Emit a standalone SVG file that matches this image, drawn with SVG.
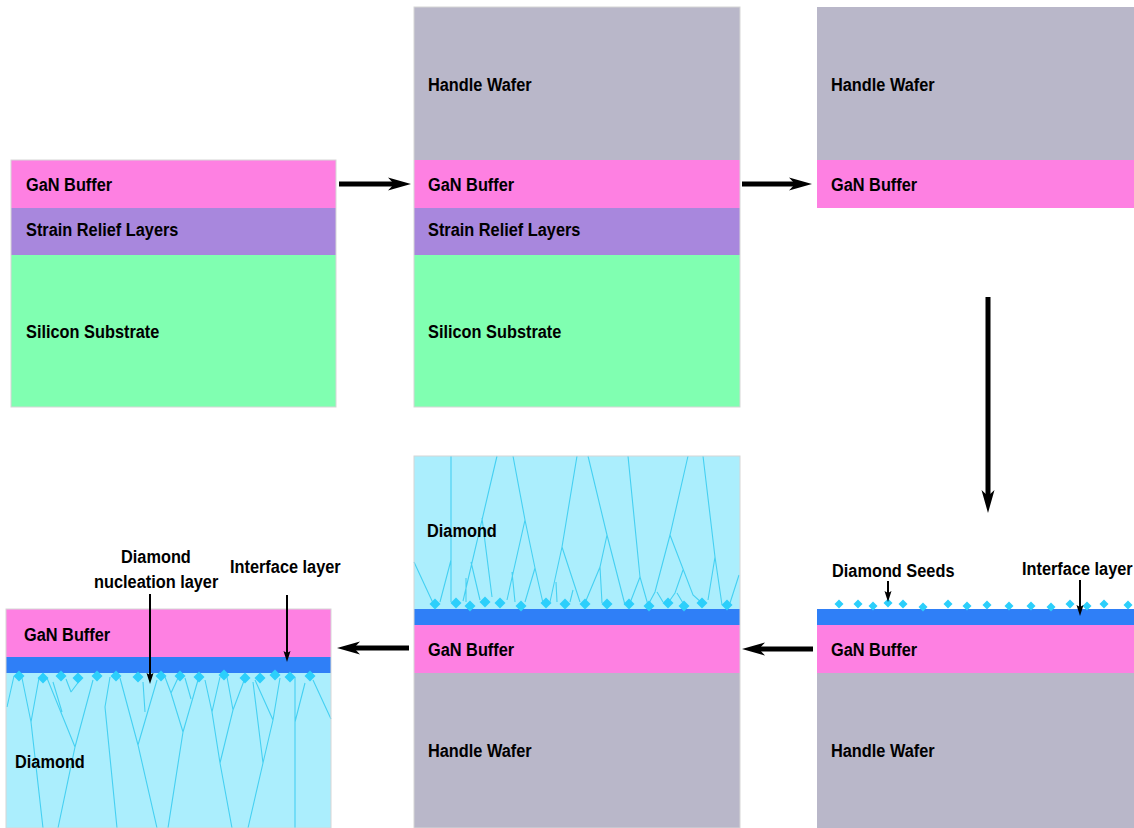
<svg xmlns="http://www.w3.org/2000/svg" width="1134" height="828" viewBox="0 0 1134 828">
  <style>
    .t { font-family: "Liberation Sans", Arial, sans-serif; font-weight: bold; font-size: 19px; fill: #000; }
    .gan { fill: #fe80e2; }
    .srl { fill: #a887dd; }
    .si { fill: #80ffb1; }
    .hw { fill: #b9b7c9; }
    .dia { fill: #abeefd; }
    .ifl { fill: #2f7ff7; }
    .frame { fill: none; stroke: #d6d6d6; stroke-width: 1; }
    .grain { fill: none; stroke: #45d0f2; stroke-width: 1.1; }
    .seed { fill: #2ccffb; }
    .arrow { stroke: #000; stroke-width: 5; fill: none; marker-end: url(#head); }
    .ptr { stroke: #000; stroke-width: 2; fill: none; marker-end: url(#headS); }
  </style>
  <defs>
    <marker id="head" markerUnits="userSpaceOnUse" markerWidth="24" markerHeight="14" refX="6" refY="7" orient="auto">
      <path d="M0,0.5 L23,7 L0,13.5 L6,7 Z" fill="#000"/>
    </marker>
    <marker id="headS" markerUnits="userSpaceOnUse" markerWidth="11" markerHeight="8" refX="2" refY="4" orient="auto">
      <path d="M0,0.5 L11,4 L0,7.5 L2,4 Z" fill="#000"/>
    </marker>
    <path id="seed" class="seed" d="M0,-5.5 L5.5,0 L0,5.5 L-5.5,0 Z"/>
    <path id="seedS" class="seed" d="M0,-4.5 L4.5,0 L0,4.5 L-4.5,0 Z"/>
  </defs>

  <rect width="1134" height="828" fill="#fff"/>

  <!-- Step 1: GaN-on-Si starting wafer -->
  <g id="step1">
    <rect class="gan" x="11" y="160" width="325" height="48"/>
    <rect class="srl" x="11" y="208" width="325" height="47"/>
    <rect class="si" x="11" y="255" width="325" height="152"/>
    <rect class="frame" x="11" y="160" width="325" height="247"/>
    <text class="t" transform="translate(26,191) scale(0.86,1)">GaN Buffer</text>
    <text class="t" transform="translate(26,236) scale(0.86,1)">Strain Relief Layers</text>
    <text class="t" transform="translate(26,338) scale(0.86,1)">Silicon Substrate</text>
  </g>

  <!-- Step 2: bonded to handle wafer -->
  <g id="step2">
    <rect class="hw" x="414" y="7" width="326" height="153"/>
    <rect class="gan" x="414" y="160" width="326" height="48"/>
    <rect class="srl" x="414" y="208" width="326" height="47"/>
    <rect class="si" x="414" y="255" width="326" height="152"/>
    <rect class="frame" x="414" y="7" width="326" height="400"/>
    <text class="t" transform="translate(428,91) scale(0.86,1)">Handle Wafer</text>
    <text class="t" transform="translate(428,191) scale(0.86,1)">GaN Buffer</text>
    <text class="t" transform="translate(428,236) scale(0.86,1)">Strain Relief Layers</text>
    <text class="t" transform="translate(428,338) scale(0.86,1)">Silicon Substrate</text>
  </g>

  <!-- Step 3: substrate and strain relief layers removed -->
  <g id="step3">
    <rect class="hw" x="817" y="7" width="317" height="153"/>
    <rect class="gan" x="817" y="160" width="317" height="48"/>
    <text class="t" transform="translate(831,91) scale(0.86,1)">Handle Wafer</text>
    <text class="t" transform="translate(831,191) scale(0.86,1)">GaN Buffer</text>
  </g>

  <!-- Step 4: interface layer and diamond seeding -->
  <g id="step4">
    <rect class="ifl" x="817" y="609" width="317" height="16"/>
    <rect class="gan" x="817" y="625" width="317" height="48"/>
    <rect class="hw" x="817" y="673" width="317" height="155"/>
    <use href="#seedS" x="839" y="604"/>
    <use href="#seedS" x="858" y="604"/>
    <use href="#seedS" x="873" y="606"/>
    <use href="#seedS" x="888" y="603"/>
    <use href="#seedS" x="903" y="604"/>
    <use href="#seedS" x="923" y="607"/>
    <use href="#seedS" x="948" y="604"/>
    <use href="#seedS" x="967" y="606"/>
    <use href="#seedS" x="987" y="605"/>
    <use href="#seedS" x="1009" y="606"/>
    <use href="#seedS" x="1031" y="606"/>
    <use href="#seedS" x="1051" y="607"/>
    <use href="#seedS" x="1070" y="604"/>
    <use href="#seedS" x="1087" y="606"/>
    <use href="#seedS" x="1104" y="604"/>
    <use href="#seedS" x="1128" y="605"/>
    <text class="t" transform="translate(831,656) scale(0.86,1)">GaN Buffer</text>
    <text class="t" transform="translate(831,757) scale(0.86,1)">Handle Wafer</text>
    <text class="t" transform="translate(832,577) scale(0.86,1)">Diamond Seeds</text>
    <text class="t" transform="translate(1022,575) scale(0.86,1)">Interface layer</text>
  </g>

  <!-- Step 5: diamond growth -->
  <g id="step5">
    <rect class="dia" x="414" y="456" width="326" height="153"/>
    <path class="grain" d="M414,562 L433,603 M440,602 L451,560 M451,456 L451,602
      M497,456 L463,601 M471,562 L480,600 M482,518 L492,597 M466,578 L466,602
      M513,456 L525,520 L535,568 L543,603 M525,520 L507,600 M512,572 L515,602 M535,568 L525,602
      M577,456 L562,547 L550,602 M562,547 L580,602 M556,582 L557,602 M573,590 L570,602
      M588,456 L607,535 L625,605 M607,535 L600,567 L585,603 M600,567 L602,603
      M628,456 L640,577 L648,605 M640,577 L630,603
      M688,456 L670,535 L655,592 L648,605 M670,535 L693,595 L702,603 M683,570 L675,593 L668,603
      M657,592 L663,602 M677,593 L683,603
      M703,456 L715,557 L722,605 M715,557 L708,600 M739,575 L730,603"/>
    <rect class="ifl" x="414" y="609" width="326" height="16"/>
    <use href="#seed" x="435" y="604"/>
    <use href="#seed" x="456" y="603"/>
    <use href="#seed" x="470" y="606"/>
    <use href="#seed" x="485" y="602"/>
    <use href="#seed" x="500" y="603"/>
    <use href="#seed" x="521" y="606"/>
    <use href="#seed" x="546" y="603"/>
    <use href="#seed" x="565" y="604"/>
    <use href="#seed" x="585" y="604"/>
    <use href="#seed" x="607" y="604"/>
    <use href="#seed" x="629" y="604"/>
    <use href="#seed" x="649" y="606"/>
    <use href="#seed" x="668" y="603"/>
    <use href="#seed" x="684" y="606"/>
    <use href="#seed" x="702" y="603"/>
    <use href="#seed" x="727" y="605"/>
    <rect class="gan" x="414" y="625" width="326" height="48"/>
    <rect class="hw" x="414" y="673" width="326" height="155"/>
    <rect class="frame" x="414" y="456" width="326" height="372"/>
    <text class="t" transform="translate(427,537) scale(0.86,1)">Diamond</text>
    <text class="t" transform="translate(428,656) scale(0.86,1)">GaN Buffer</text>
    <text class="t" transform="translate(428,757) scale(0.86,1)">Handle Wafer</text>
  </g>

  <!-- Step 6: handle wafer removed, GaN-on-diamond -->
  <g id="step6">
    <rect class="gan" x="6" y="609" width="325" height="48"/>
    <rect class="dia" x="6" y="673" width="325" height="155"/>
    <path class="grain" d="M7,707 L14,676
      M22,678 L31,722 M39,678 L31,722 M31,722 L43,828
      M47,678 L75,747 M93,680 L75,747 M75,747 L58,828
      M53,682 L62,712 M66,679 L71,692 M80,680 L71,692
      M110,677 L105,707 L117,828
      M120,678 L138,745 L157,828 M157,680 L138,745 M143,682 L145,712
      M165,677 L171,693 L178,678 M171,693 L183,732 M198,680 L183,732 M183,732 L168,828
      M185,678 L191,699
      M220,677 L212,712 L220,763 L232,828 M205,680 L212,712
      M227,677 L233,710 L220,763 M245,678 L233,710
      M255,680 L273,720 M280,678 L273,720 L263,763 L248,828 M253,682 L263,763
      M295,677 L295,828 M295,722 L305,683
      M313,680 L331,719"/>
    <rect class="ifl" x="6" y="657" width="325" height="16"/>
    <use href="#seed" x="19" y="676"/>
    <use href="#seed" x="43" y="678"/>
    <use href="#seed" x="61" y="676"/>
    <use href="#seed" x="78" y="678"/>
    <use href="#seed" x="97" y="676"/>
    <use href="#seed" x="116" y="676"/>
    <use href="#seed" x="138" y="677"/>
    <use href="#seed" x="161" y="676"/>
    <use href="#seed" x="180" y="676"/>
    <use href="#seed" x="199" y="677"/>
    <use href="#seed" x="224" y="675"/>
    <use href="#seed" x="245" y="678"/>
    <use href="#seed" x="260" y="678"/>
    <use href="#seed" x="275" y="675"/>
    <use href="#seed" x="290" y="677"/>
    <use href="#seed" x="310" y="676"/>
    <rect class="frame" x="6" y="609" width="325" height="219"/>
    <text class="t" transform="translate(24,641) scale(0.86,1)">GaN Buffer</text>
    <text class="t" transform="translate(15,768) scale(0.86,1)">Diamond</text>
    <text class="t" transform="translate(121,563) scale(0.86,1)">Diamond</text>
    <text class="t" transform="translate(94,588) scale(0.86,1)">nucleation layer</text>
    <text class="t" transform="translate(230,573) scale(0.86,1)">Interface layer</text>
  </g>

  <!-- Process-flow arrows and label pointers -->
  <g id="connectors">
    <line class="arrow" x1="339" y1="184" x2="394" y2="184"/>
    <line class="arrow" x1="742" y1="184" x2="795" y2="184"/>
    <line class="arrow" x1="988" y1="297" x2="988" y2="496"/>
    <line class="arrow" x1="813" y1="649" x2="759" y2="649"/>
    <line class="arrow" x1="409" y1="648" x2="354" y2="648"/>
    <line class="ptr" x1="888" y1="581" x2="888" y2="593"/>
    <line class="ptr" x1="1080" y1="580" x2="1080" y2="607"/>
    <line class="ptr" x1="150" y1="594" x2="150" y2="675"/>
    <line class="ptr" x1="287" y1="595" x2="287" y2="653"/>
  </g>
</svg>
